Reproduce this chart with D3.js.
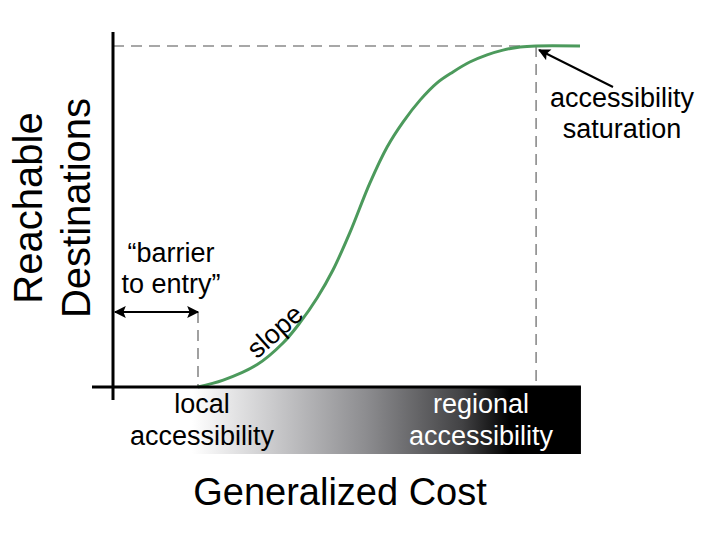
<!DOCTYPE html>
<html><head><meta charset="utf-8">
<script src="https://cdn.jsdelivr.net/npm/d3@7"></script>
<style>html,body{margin:0;padding:0;background:#fff;}svg{display:block;font-family:"Liberation Sans",Arial,sans-serif;}</style>
</head><body>
<svg id="chart" width="712" height="533"></svg>
<script>
// Generalized cost (x) and reachable destinations (y)
const costs = [18.2, 23.6, 30.8, 36.4, 40.0, 43.7, 47.1, 50.7, 55.0, 58.7, 62.1, 65.8, 69.4, 72.8, 76.4, 80.1, 83.5, 87.2, 90.6, 100];
const destinations = [0, 2, 6.5, 12.9, 18.8, 26.1, 34.3, 45.2, 59.8, 70.4, 77.7, 84.2, 89.2, 92.4, 95.3, 97.4, 98.8, 99.7, 100, 100];
const barrierCost = 18.2;
const saturationCost = 90.6;
const yLabel = ["Reachable", "Destinations"];
const xLabel = "Generalized Cost";
const lowLabel = ["local", "accessibility"];
const highLabel = ["regional", "accessibility"];
const satLabel = ["accessibility", "saturation"];
const barrierLabel = ["\u201cbarrier", "to entry\u201d"];

const svg = d3.select("#chart");
const x = d3.scaleLinear().domain([0, 100]).range([113, 580]);
const y = d3.scaleLinear().domain([0, 100]).range([387, 46]);
const data = costs.map((c, i) => ({c, d: destinations[i]}));

const defs = svg.append("defs");
const grad = defs.append("linearGradient").attr("id", "g").attr("gradientUnits", "userSpaceOnUse")
  .attr("x1", x(16.9)).attr("x2", x(85)).attr("y1", 0).attr("y2", 0);
[[0, "#ffffff"], [0.25, "#cbcbcd"], [0.55, "#8c8c8f"], [0.85, "#424244"], [1, "#000000"]]
  .forEach(([o, c]) => grad.append("stop").attr("offset", o).attr("stop-color", c));
defs.append("marker").attr("id", "ah").attr("viewBox", "0 0 10 10").attr("refX", 9).attr("refY", 5)
  .attr("markerWidth", 14).attr("markerHeight", 12).attr("markerUnits", "userSpaceOnUse").attr("orient", "auto-start-reverse")
  .append("path").attr("d", "M0,0 L10,5 L0,10 L2,5 Z").attr("fill", "#000");

// gradient band
svg.append("rect").attr("x", x(0)).attr("y", y(0)).attr("width", x(100.2) - x(0)).attr("height", 67).attr("fill", "url(#g)");

// dashed guides
const dash = {stroke: "#8a8a8a", "stroke-width": 1.6, "stroke-dasharray": "11,7", fill: "none"};
function dl(x1, y1, x2, y2) {
  const l = svg.append("line").attr("x1", x1).attr("y1", y1).attr("x2", x2).attr("y2", y2);
  Object.entries(dash).forEach(([k, v]) => l.attr(k, v));
}
dl(x(0), y(100), x(saturationCost), y(100));
dl(x(saturationCost), y(100), x(saturationCost), y(0));
dl(x(barrierCost), y(22), x(barrierCost), y(0));

// curve
svg.append("path").datum(data).attr("fill", "none").attr("stroke", "#4c9a5c").attr("stroke-width", 3)
  .attr("d", d3.line().x(d => x(d.c)).y(d => y(d.d)).curve(d3.curveCatmullRom.alpha(0.5)));

// axes
svg.append("line").attr("x1", x(0)).attr("x2", x(0)).attr("y1", 32).attr("y2", 400).attr("stroke", "#000").attr("stroke-width", 3);
svg.append("line").attr("x1", 92).attr("x2", x(100.2)).attr("y1", y(0)).attr("y2", y(0)).attr("stroke", "#000").attr("stroke-width", 3);

// barrier double arrow
svg.append("line").attr("x1", x(0) + 2).attr("x2", x(barrierCost)).attr("y1", y(22)).attr("y2", y(22))
  .attr("stroke", "#000").attr("stroke-width", 2).attr("marker-end", "url(#ah)").attr("marker-start", "url(#ah)");

// saturation arrow
svg.append("line").attr("x1", 613).attr("y1", 87).attr("x2", x(saturationCost) + 3).attr("y2", y(100) + 4)
  .attr("stroke", "#000").attr("stroke-width", 2).attr("marker-end", "url(#ah)");

function lines(arr, cx, y0, dy, size, fill) {
  const t = svg.append("text").attr("text-anchor", "middle").attr("font-size", size).attr("fill", fill);
  arr.forEach((s, i) => t.append("tspan").attr("x", cx).attr("y", y0 + i * dy).text(s));
  return t;
}
lines(barrierLabel, 171, 262, 31, 27, "#000");
lines(satLabel, 622, 107, 31, 27, "#000");
lines(lowLabel, 202, 413, 32, 27, "#000");
lines(highLabel, 481, 413, 32, 27, "#fff");
svg.append("text").attr("x", 340).attr("y", 505).attr("text-anchor", "middle").attr("font-size", 38).text(xLabel);

// y title
const yt = svg.append("text").attr("transform", "translate(42,208) rotate(-90)").attr("text-anchor", "middle").attr("font-size", 40);
yt.append("tspan").attr("x", 0).attr("y", 0).text(yLabel[0]);
yt.append("tspan").attr("x", 0).attr("y", 48).text(yLabel[1]);

// slope label
svg.append("text").attr("transform", "translate(281,338) rotate(-42)").attr("text-anchor", "middle").attr("font-size", 27).text("slope");
</script>
</body></html>
